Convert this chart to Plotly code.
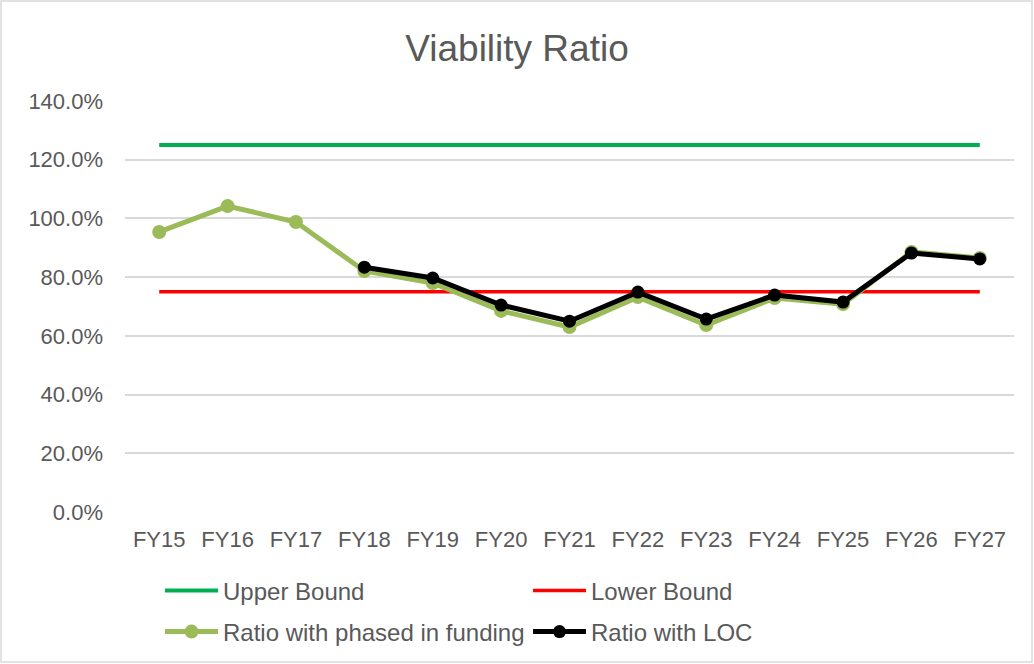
import plotly.graph_objects as go

categories = ["FY15", "FY16", "FY17", "FY18", "FY19", "FY20", "FY21",
              "FY22", "FY23", "FY24", "FY25", "FY26", "FY27"]
upper_bound = [125.0] * 13
lower_bound = [75.0] * 13
ratio_phased = [95.4, 104.2, 98.8, 82.1, 78.0, 68.5, 63.0, 73.2, 63.7, 72.9, 70.8, 88.6, 86.5]
ratio_loc = [None, None, None, 83.4, 79.7, 70.5, 65.0, 74.9, 65.7, 73.9, 71.5, 88.2, 86.2]
y_ticks = [0, 20, 40, 60, 80, 100, 120, 140]
y_tick_labels = ["0.0%", "20.0%", "40.0%", "60.0%", "80.0%", "100.0%", "120.0%", "140.0%"]

W, H = 1034, 664
L, R, T, B = 125, 20, 101, 152
pw, ph = W - L - R, H - T - B

def px_x(x):
    return (x - L) / pw

def px_y(y):
    return (H - B - y) / ph

font_color = "#595959"
FONT = "Liberation Sans, Arial, sans-serif"

fig = go.Figure()
fig.add_trace(go.Scatter(x=categories, y=upper_bound, name="Upper Bound", mode="lines",
                         line=dict(color="#00b050", width=4), legend="legend"))
fig.add_trace(go.Scatter(x=categories, y=lower_bound, name="Lower Bound", mode="lines",
                         line=dict(color="#ff0000", width=3.5), legend="legend"))
fig.add_trace(go.Scatter(x=categories, y=ratio_phased, name="Ratio with phased in funding",
                         mode="lines+markers",
                         line=dict(color="#9bbb59", width=5),
                         marker=dict(color="#9bbb59", size=14), legend="legend2"))
fig.add_trace(go.Scatter(x=categories, y=ratio_loc, name="Ratio with LOC",
                         mode="lines+markers",
                         line=dict(color="#000000", width=5),
                         marker=dict(color="#000000", size=13), legend="legend2"))

leg_common = dict(orientation="h", x=px_x(160), xanchor="left", yanchor="middle",
                  entrywidth=300, entrywidthmode="pixels", itemwidth=53,
                  font=dict(size=24, color=font_color, family=FONT),
                  bgcolor="rgba(0,0,0,0)")

fig.update_layout(
    width=W, height=H,
    margin=dict(l=L, r=R, t=T, b=B, autoexpand=False),
    paper_bgcolor="white", plot_bgcolor="white",
    font=dict(family=FONT, color=font_color, size=22),
    title=dict(text="Viability Ratio", x=0.5, xanchor="center", y=1 - 48 / H, yanchor="middle",
               font=dict(size=37, color=font_color, family=FONT)),
    xaxis=dict(showgrid=False, showline=False, ticks="", zeroline=False, automargin=False,
               tickfont=dict(size=22, color=font_color), range=[-0.5, 12.5],
               ticklabelstandoff=12),
    yaxis=dict(range=[0, 140], tickvals=y_ticks, ticktext=y_tick_labels, automargin=False,
               showgrid=True, gridcolor="#d9d9d9", gridwidth=1.5, zeroline=False,
               showline=False, ticks="", ticklabelstandoff=21,
               tickfont=dict(size=22, color=font_color)),
    legend=dict(y=px_y(591), **leg_common),
    legend2=dict(y=px_y(632), **leg_common),
    shapes=[dict(type="rect", xref="paper", yref="paper",
                 x0=px_x(1), x1=px_x(1032), y0=px_y(662), y1=px_y(1),
                 line=dict(color="#d9d9d9", width=1.5), fillcolor="rgba(0,0,0,0)", layer="below")],
)

fig.write_html("out.html", config={"displayModeBar": False},
               post_script="document.body.style.margin='0';document.body.style.overflow='hidden';")
